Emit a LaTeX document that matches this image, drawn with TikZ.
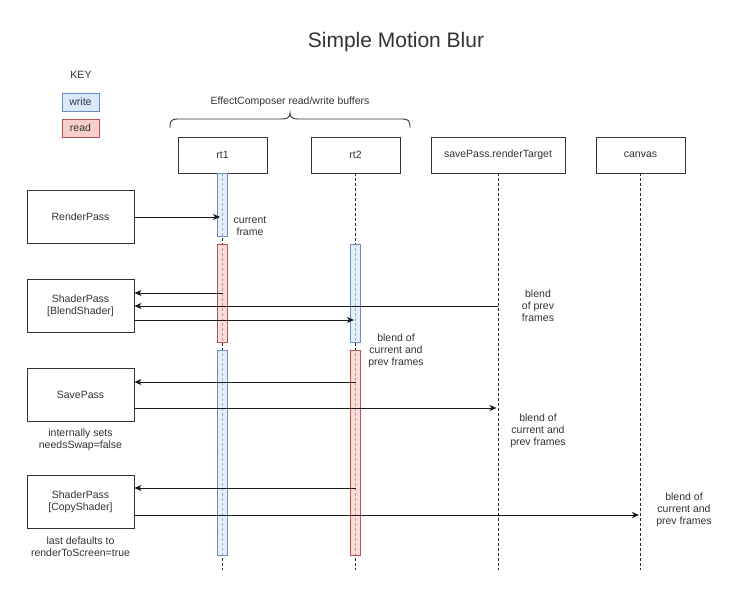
\documentclass[tikz,border=0pt]{standalone}
\usepackage{fontspec}
\setmainfont{Liberation Sans}
\usetikzlibrary{arrows.meta}
\definecolor{txt}{HTML}{333333}
\definecolor{wfill}{HTML}{DAE8FC}
\definecolor{wdraw}{HTML}{6C8EBF}
\definecolor{rfill}{HTML}{F8CECC}
\definecolor{rdraw}{HTML}{B85450}
\tikzset{
 lbl/.style={text=txt, font=\fontsize{10.5}{12}\selectfont, align=center, inner sep=0pt},
 passbox/.style={draw=black!80, line width=0.9pt, minimum width=107pt, minimum height=53pt, lbl},
 headbox/.style={draw=black!80, line width=0.9pt, minimum width=89pt, minimum height=36pt, lbl},
 life/.style={draw=black!85, line width=0.8pt, dash pattern=on 2.5pt off 2.5pt},
 wbar/.style={fill=wfill, draw=wdraw, fill opacity=0.7, line width=0.8pt},
 rbar/.style={fill=rfill, draw=rdraw, fill opacity=0.7, line width=0.8pt},
 arr/.style={draw=black!90, line width=0.9pt, -{Stealth[length=7pt,width=6pt,inset=2pt]}},
}
\begin{document}
\begin{tikzpicture}[x=1pt,y=-1pt]
\useasboundingbox[fill=white] (0,0) rectangle (739,600);
% title and key
\node[text=txt, font=\fontsize{21}{24}\selectfont, inner sep=0pt] (title) at (396,42) {Simple Motion Blur};
\node[lbl] (key) at (81,75) {KEY};
\node[lbl, draw=wdraw, fill=wfill, line width=0.8pt, minimum width=37pt, minimum height=18pt] (write) at (80.5,102) {write};
\node[lbl, draw=rdraw, fill=rfill, line width=0.8pt, minimum width=37pt, minimum height=18pt] (read) at (80.5,128) {read};
% brace
\node[lbl] (ecl) at (290,102) {EffectComposer read/write buffers};
\draw[line width=0.9pt, black!80] (170,128) .. controls (170,121) and (171,119) .. (178,119) -- (282,119)
  .. controls (288,119) and (290,117) .. (290,113) .. controls (290,117) and (292,119) .. (298,119)
  -- (402,119) .. controls (409,119) and (410,121) .. (410,128);
% headers
\node[headbox] (rt1) at (222.5,155) {rt1};
\node[headbox] (rt2) at (355.5,155) {rt2};
\node[headbox, minimum width=134pt] (srt) at (498,155) {savePass.renderTarget};
\node[headbox] (cv) at (640.5,155) {canvas};
% lifeline ends
\coordinate (e1) at (222.5,570);
\coordinate (e2) at (355.5,570);
\coordinate (e3) at (498,570);
\coordinate (e4) at (640.5,570);
\draw[life] (rt1.south) -- (e1);
\draw[life] (rt2.south) -- (e2);
\draw[life] (srt.south) -- (e3);
\draw[life] (cv.south) -- (e4);
% activation bars
\path[wbar] (217.5,173) rectangle (227.5,236);
\path[rbar] (217.5,244) rectangle (227.5,342);
\path[wbar] (217.5,350) rectangle (227.5,555);
\path[wbar] (350.5,244) rectangle (360.5,342);
\path[rbar] (350.5,350) rectangle (360.5,555);
% passes
\node[passbox] (rp) at (80.5,216.5) {RenderPass};
\node[passbox] (bs) at (80.5,306) {ShaderPass\\{}[BlendShader]};
\node[passbox] (sp) at (80.5,394.5) {SavePass};
\node[passbox] (cs) at (80.5,501.5) {ShaderPass\\{}[CopyShader]};
% arrow anchor points on lifelines
\coordinate (p1) at (220,217);
\coordinate (p2) at (222.5,293);
\coordinate (p3) at (498,306);
\coordinate (p4) at (354,320);
\coordinate (p5) at (355.5,382);
\coordinate (p6) at (496.5,408);
\coordinate (p7) at (355.5,488);
\coordinate (p8) at (639,515);
% connectors
\draw[arr] (rp.east |- p1) -- (p1);
\draw[arr] (p2) -- (p2 -| bs.east);
\draw[arr] (p3) -- (p3 -| bs.east);
\draw[arr] (bs.east |- p4) -- (p4);
\draw[arr] (p5) -- (p5 -| sp.east);
\draw[arr] (sp.east |- p6) -- (p6);
\draw[arr] (p7) -- (p7 -| cs.east);
\draw[arr] (cs.east |- p8) -- (p8);
% labels
\node[lbl] (l1) at (250,226) {current\\frame};
\node[lbl] (l2) at (538,306) {blend\\of prev\\frames};
\node[lbl] (l3) at (396,351) {blend of\\current and\\prev frames};
\node[lbl] (l4) at (538,431) {blend of\\current and\\prev frames};
\node[lbl] (l5) at (684,510) {blend of\\current and\\prev frames};
\node[lbl] (l6) at (80.5,440) {internally sets\\needsSwap=false};
\node[lbl] (l7) at (80.5,547) {last defaults to\\renderToScreen=true};
\end{tikzpicture}
\end{document}
